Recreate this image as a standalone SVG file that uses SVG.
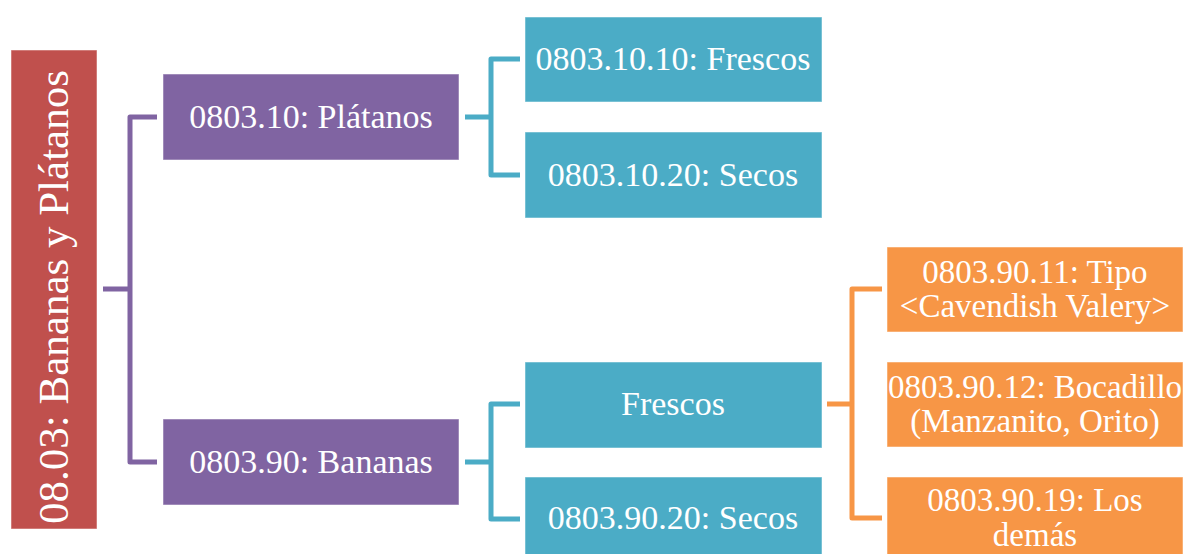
<svg xmlns="http://www.w3.org/2000/svg" width="1186" height="554" viewBox="0 0 1186 554">
<style>
.t{font-family:"Liberation Serif","DejaVu Serif",serif;fill:#fff;text-anchor:middle;font-size:34px}
.o{font-size:33px}
.c{fill:none;stroke-width:5;stroke-linejoin:round}
.box{stroke:#fff;stroke-opacity:0.5;stroke-width:1}
</style>
<rect width="1186" height="554" fill="#fff"/>
<g id="connectors">
<path class="c" stroke="#8064A2" d="M103,289H130M157,117H130V462H157"/>
<path class="c" stroke="#4BACC6" d="M465,117H491M520,59H491V175H520"/>
<path class="c" stroke="#4BACC6" d="M465,462H491M520,404H491V519H520"/>
<path class="c" stroke="#F79646" d="M827,404H852M882,289H852V518H882"/>
</g>
<g id="root">
<rect class="box" x="11" y="50" width="86" height="479" fill="#C0504D"/>
<text class="t" style="font-size:43px" transform="translate(68,297) rotate(-90)">08.03: Bananas y Plátanos</text>
</g>
<g id="n0803-10">
<rect class="box" x="163" y="74" width="296" height="86" fill="#8064A2"/>
<text class="t" x="311" y="128">0803.10: Plátanos</text>
</g>
<g id="n0803-90">
<rect class="box" x="163" y="419" width="296" height="86" fill="#8064A2"/>
<text class="t" x="311" y="473">0803.90: Bananas</text>
</g>
<g id="n0803-10-10">
<rect class="box" x="525" y="17" width="297" height="85" fill="#4BACC6"/>
<text class="t" x="673" y="70">0803.10.10: Frescos</text>
</g>
<g id="n0803-10-20">
<rect class="box" x="525" y="132" width="297" height="86" fill="#4BACC6"/>
<text class="t" x="673" y="186">0803.10.20: Secos</text>
</g>
<g id="n-frescos">
<rect class="box" x="525" y="362" width="297" height="86" fill="#4BACC6"/>
<text class="t" x="673" y="415">Frescos</text>
</g>
<g id="n0803-90-20">
<rect class="box" x="525" y="477" width="297" height="86" fill="#4BACC6"/>
<text class="t" x="673" y="529">0803.90.20: Secos</text>
</g>
<g id="n0803-90-11">
<rect class="box" x="887" y="247" width="296" height="85" fill="#F79646"/>
<text class="t o" x="1035" y="283">0803.90.11: Tipo</text>
<text class="t o" x="1035" y="317">&lt;Cavendish Valery&gt;</text>
</g>
<g id="n0803-90-12">
<rect class="box" x="887" y="362" width="296" height="85" fill="#F79646"/>
<text class="t o" x="1035" y="398">0803.90.12: Bocadillo</text>
<text class="t o" x="1035" y="432">(Manzanito, Orito)</text>
</g>
<g id="n0803-90-19">
<rect class="box" x="887" y="477" width="296" height="86" fill="#F79646"/>
<text class="t o" x="1035" y="511">0803.90.19: Los</text>
<text class="t o" x="1035" y="546">demás</text>
</g>
</svg>
